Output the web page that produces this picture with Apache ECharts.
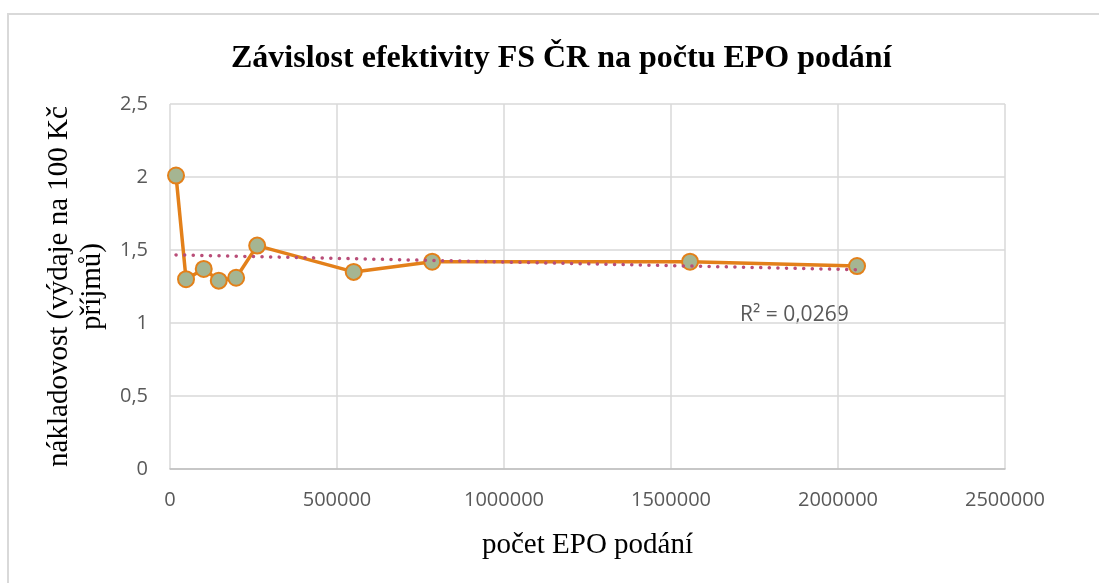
<!DOCTYPE html>
<html lang="cs">
<head>
<meta charset="utf-8">
<title>Závislost efektivity FS ČR na počtu EPO podání</title>
<style>
  html, body { margin: 0; padding: 0; background: #fff; }
  #chart { width: 1099px; height: 583px; }
</style>
</head>
<body>
<div id="chart"></div>
<script src="https://cdn.jsdelivr.net/npm/echarts@6/dist/echarts.min.js"></script>
<script>
// počet EPO podání (x) a nákladovost (y)
var podani = [18000, 48000, 101000, 146000, 198000, 261000, 550000, 785000, 1557000, 2057000];
var naklady = [2.01, 1.30, 1.37, 1.29, 1.31, 1.53, 1.35, 1.42, 1.42, 1.39];
var yTicks = [0, 0.5, 1, 1.5, 2, 2.5];
var xTicks = [0, 500000, 1000000, 1500000, 2000000, 2500000];
var r2Text = 'R² = 0,0269';

// lineární spojnice trendu (nejmenší čtverce), jako v Excelu
function trend(xs, ys) {
  var n = xs.length, mx = 0, my = 0;
  xs.forEach(function (x, i) { mx += x; my += ys[i]; });
  mx /= n; my /= n;
  var sxy = 0, sxx = 0;
  xs.forEach(function (x, i) { sxy += (x - mx) * (ys[i] - my); sxx += (x - mx) * (x - mx); });
  var k = sxy / sxx, q = my - k * mx;
  var x0 = Math.min.apply(null, xs), x1 = Math.max.apply(null, xs);
  return [[x0, k * x0 + q], [x1, k * x1 + q]];
}

var chart = echarts.init(document.getElementById('chart'));
var orange = '#E3801A';

chart.setOption({
  animation: false,
  title: {
    text: 'Závislost efektivity FS ČR na počtu EPO podání',
    left: 226,
    top: 38,
    textStyle: { fontFamily: 'Liberation Serif', fontWeight: 'bold', fontSize: 32, color: '#000' }
  },
  graphic: [
    { type: 'rect', shape: { x: 8, y: 14, width: 1300, height: 800 },
      style: { fill: 'none', stroke: '#d9d9d9', lineWidth: 2 }, silent: true },
    { type: 'text', left: 740, top: 305,
      style: { text: r2Text, font: '21px "Open Sans"', fill: '#595959' } }
  ],
  grid: { left: 170, top: 104, width: 835, height: 365 },
  xAxis: {
    type: 'value',
    min: xTicks[0],
    max: xTicks[xTicks.length - 1],
    interval: xTicks[1] - xTicks[0],
    name: 'počet EPO podání',
    nameLocation: 'middle',
    nameGap: 62,
    nameTextStyle: { fontFamily: 'Liberation Serif', fontSize: 29, color: '#000' },
    axisLine: { lineStyle: { color: '#bfbfbf', width: 1.5 } },
    axisTick: { show: false },
    axisLabel: { margin: 21, fontFamily: 'Open Sans', fontSize: 20, color: '#595959',
      formatter: function (v) { return String(v); } },
    splitLine: { show: true, lineStyle: { color: '#d9d9d9', width: 1.5 } }
  },
  yAxis: {
    type: 'value',
    min: yTicks[0],
    max: yTicks[yTicks.length - 1],
    interval: yTicks[1] - yTicks[0],
    name: 'nákladovost (výdaje na 100 Kč\npříjmů)',
    nameLocation: 'middle',
    nameGap: 60,
    nameTextStyle: { fontFamily: 'Liberation Serif', fontSize: 29, color: '#000', lineHeight: 33, align: 'center' },
    axisLine: { show: false },
    axisTick: { show: false },
    axisLabel: { margin: 22, fontFamily: 'Open Sans', fontSize: 20, color: '#595959',
      formatter: function (v) { return String(v).replace('.', ','); } },
    splitLine: { lineStyle: { color: '#d9d9d9', width: 1.5 } }
  },
  series: [
    {
      type: 'line',
      data: podani.map(function (x, i) { return [x, naklady[i]]; }),
      symbol: 'circle',
      symbolSize: 16,
      lineStyle: { color: orange, width: 3.5 },
      itemStyle: { color: '#A5B592', borderColor: orange, borderWidth: 2 },
      z: 3
    },
    {
      type: 'line',
      data: trend(podani, naklady),
      symbol: 'none',
      lineStyle: { color: '#B94D78', width: 3.5, type: [0.1, 8.5], cap: 'round' },
      z: 4
    }
  ]
});
</script>
</body>
</html>
